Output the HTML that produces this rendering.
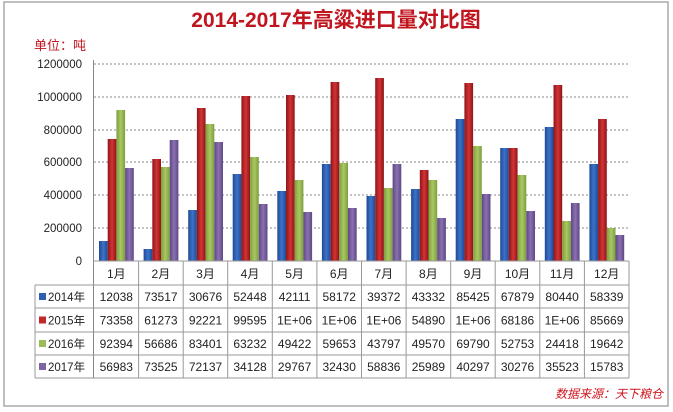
<!DOCTYPE html>
<html><head><meta charset="utf-8"><style>
body{margin:0;background:#fff;}
svg{display:block;font-family:"Liberation Sans","Noto Sans CJK SC",sans-serif;}
</style></head><body>
<svg width="673" height="412" viewBox="0 0 673 412" xmlns="http://www.w3.org/2000/svg">
<defs>
<linearGradient id="gb" x1="0" x2="1"><stop offset="0" stop-color="#1d4a96"/><stop offset=".5" stop-color="#3d72c8"/><stop offset="1" stop-color="#1d4a96"/></linearGradient>
<linearGradient id="gr" x1="0" x2="1"><stop offset="0" stop-color="#8e1418"/><stop offset=".5" stop-color="#d23434"/><stop offset="1" stop-color="#8e1418"/></linearGradient>
<linearGradient id="gg" x1="0" x2="1"><stop offset="0" stop-color="#7e9e3c"/><stop offset=".5" stop-color="#a8c864"/><stop offset="1" stop-color="#7e9e3c"/></linearGradient>
<linearGradient id="gp" x1="0" x2="1"><stop offset="0" stop-color="#5e4884"/><stop offset=".5" stop-color="#8a70b0"/><stop offset="1" stop-color="#5e4884"/></linearGradient>
</defs>
<rect x="4" y="2" width="664" height="404" fill="#fff" stroke="#aaa" stroke-width="1.5"/>
<text x="336" y="27" text-anchor="middle" font-size="21" font-weight="bold" fill="#c0141e">2014-2017年高粱进口量对比图</text>
<text x="34" y="50" font-size="13" fill="#c0141e">单位：吨</text>
<g stroke="#888" stroke-dasharray="2,2" stroke-width="1">
<line x1="94" x2="629" y1="64" y2="64"/><line x1="94" x2="629" y1="97" y2="97"/><line x1="94" x2="629" y1="130" y2="130"/><line x1="94" x2="629" y1="162" y2="162"/><line x1="94" x2="629" y1="195" y2="195"/><line x1="94" x2="629" y1="228" y2="228"/>
</g>
<g font-size="11.5" fill="#222" text-anchor="end">
<text x="82" y="68">1200000</text><text x="82" y="101">1000000</text><text x="82" y="134">800000</text><text x="82" y="166">600000</text><text x="82" y="199">400000</text><text x="82" y="232">200000</text><text x="82" y="265">0</text>
</g>
<g>
<g transform="translate(99,0)"><rect x="0" y="241" width="8.7" height="20" fill="url(#gb)"/><rect x="8.7" y="139" width="8.7" height="122" fill="url(#gr)"/><rect x="17.4" y="110" width="8.7" height="151" fill="url(#gg)"/><rect x="26.1" y="168" width="8.7" height="93" fill="url(#gp)"/></g>
<g transform="translate(143.6,0)"><rect x="0" y="249" width="8.7" height="12" fill="url(#gb)"/><rect x="8.7" y="159" width="8.7" height="102" fill="url(#gr)"/><rect x="17.4" y="167" width="8.7" height="94" fill="url(#gg)"/><rect x="26.1" y="140" width="8.7" height="121" fill="url(#gp)"/></g>
<g transform="translate(188.2,0)"><rect x="0" y="210" width="8.7" height="51" fill="url(#gb)"/><rect x="8.7" y="108" width="8.7" height="153" fill="url(#gr)"/><rect x="17.4" y="124" width="8.7" height="137" fill="url(#gg)"/><rect x="26.1" y="142" width="8.7" height="119" fill="url(#gp)"/></g>
<g transform="translate(232.7,0)"><rect x="0" y="174" width="8.7" height="87" fill="url(#gb)"/><rect x="8.7" y="96" width="8.7" height="165" fill="url(#gr)"/><rect x="17.4" y="157" width="8.7" height="104" fill="url(#gg)"/><rect x="26.1" y="204" width="8.7" height="57" fill="url(#gp)"/></g>
<g transform="translate(277.3,0)"><rect x="0" y="191" width="8.7" height="70" fill="url(#gb)"/><rect x="8.7" y="95" width="8.7" height="166" fill="url(#gr)"/><rect x="17.4" y="180" width="8.7" height="81" fill="url(#gg)"/><rect x="26.1" y="212" width="8.7" height="49" fill="url(#gp)"/></g>
<g transform="translate(321.9,0)"><rect x="0" y="164" width="8.7" height="97" fill="url(#gb)"/><rect x="8.7" y="82" width="8.7" height="179" fill="url(#gr)"/><rect x="17.4" y="163" width="8.7" height="98" fill="url(#gg)"/><rect x="26.1" y="208" width="8.7" height="53" fill="url(#gp)"/></g>
<g transform="translate(366.5,0)"><rect x="0" y="196" width="8.7" height="65" fill="url(#gb)"/><rect x="8.7" y="78" width="8.7" height="183" fill="url(#gr)"/><rect x="17.4" y="188" width="8.7" height="73" fill="url(#gg)"/><rect x="26.1" y="164" width="8.7" height="97" fill="url(#gp)"/></g>
<g transform="translate(411.1,0)"><rect x="0" y="189" width="8.7" height="72" fill="url(#gb)"/><rect x="8.7" y="170" width="8.7" height="91" fill="url(#gr)"/><rect x="17.4" y="180" width="8.7" height="81" fill="url(#gg)"/><rect x="26.1" y="218" width="8.7" height="43" fill="url(#gp)"/></g>
<g transform="translate(455.7,0)"><rect x="0" y="119" width="8.7" height="142" fill="url(#gb)"/><rect x="8.7" y="83" width="8.7" height="178" fill="url(#gr)"/><rect x="17.4" y="146" width="8.7" height="115" fill="url(#gg)"/><rect x="26.1" y="194" width="8.7" height="67" fill="url(#gp)"/></g>
<g transform="translate(500.2,0)"><rect x="0" y="148" width="8.7" height="113" fill="url(#gb)"/><rect x="8.7" y="148" width="8.7" height="113" fill="url(#gr)"/><rect x="17.4" y="175" width="8.7" height="86" fill="url(#gg)"/><rect x="26.1" y="211" width="8.7" height="50" fill="url(#gp)"/></g>
<g transform="translate(544.8,0)"><rect x="0" y="127" width="8.7" height="134" fill="url(#gb)"/><rect x="8.7" y="85" width="8.7" height="176" fill="url(#gr)"/><rect x="17.4" y="221" width="8.7" height="40" fill="url(#gg)"/><rect x="26.1" y="203" width="8.7" height="58" fill="url(#gp)"/></g>
<g transform="translate(589.4,0)"><rect x="0" y="164" width="8.7" height="97" fill="url(#gb)"/><rect x="8.7" y="119" width="8.7" height="142" fill="url(#gr)"/><rect x="17.4" y="228" width="8.7" height="33" fill="url(#gg)"/><rect x="26.1" y="235" width="8.7" height="26" fill="url(#gp)"/></g>
</g>
<line x1="93.5" y1="60" x2="93.5" y2="378" stroke="#888"/>
<g stroke="#999" fill="none">
<line x1="94" y1="261" x2="629" y2="261"/>
<line x1="35" y1="285" x2="629" y2="285"/><line x1="35" y1="308" x2="629" y2="308"/><line x1="35" y1="332" x2="629" y2="332"/><line x1="35" y1="355" x2="629" y2="355"/><line x1="35" y1="378" x2="629" y2="378"/>
<line x1="35" y1="285" x2="35" y2="378"/>
<line x1="138.6" y1="261" x2="138.6" y2="378"/><line x1="183.2" y1="261" x2="183.2" y2="378"/><line x1="227.7" y1="261" x2="227.7" y2="378"/><line x1="272.3" y1="261" x2="272.3" y2="378"/><line x1="316.9" y1="261" x2="316.9" y2="378"/><line x1="361.5" y1="261" x2="361.5" y2="378"/><line x1="406.1" y1="261" x2="406.1" y2="378"/><line x1="450.7" y1="261" x2="450.7" y2="378"/><line x1="495.2" y1="261" x2="495.2" y2="378"/><line x1="539.8" y1="261" x2="539.8" y2="378"/><line x1="584.4" y1="261" x2="584.4" y2="378"/><line x1="629" y1="261" x2="629" y2="378"/>
</g>
<g font-size="12" fill="#222" text-anchor="middle">
<text x="116.3" y="278">1月</text><text x="160.9" y="278">2月</text><text x="205.5" y="278">3月</text><text x="250" y="278">4月</text><text x="294.6" y="278">5月</text><text x="339.2" y="278">6月</text><text x="383.8" y="278">7月</text><text x="428.4" y="278">8月</text><text x="473" y="278">9月</text><text x="517.5" y="278">10月</text><text x="562.1" y="278">11月</text><text x="606.7" y="278">12月</text>
</g>
<g font-size="11.5" fill="#222">
<rect x="39" y="293" width="7" height="7" fill="#2e5fb0"/><text x="48" y="301">2014年</text>
<rect x="39" y="316.5" width="7" height="7" fill="#c0282a"/><text x="48" y="324.5">2015年</text>
<rect x="39" y="340" width="7" height="7" fill="#9bbb59"/><text x="48" y="348">2016年</text>
<rect x="39" y="363" width="7" height="7" fill="#8064a2"/><text x="48" y="371">2017年</text>
</g>
<g font-size="12" fill="#222" text-anchor="middle">
<text y="301"><tspan x="116.3">12038</tspan><tspan x="160.9">73517</tspan><tspan x="205.5">30676</tspan><tspan x="250">52448</tspan><tspan x="294.6">42111</tspan><tspan x="339.2">58172</tspan><tspan x="383.8">39372</tspan><tspan x="428.4">43332</tspan><tspan x="473">85425</tspan><tspan x="517.5">67879</tspan><tspan x="562.1">80440</tspan><tspan x="606.7">58339</tspan></text>
<text y="324.5"><tspan x="116.3">73358</tspan><tspan x="160.9">61273</tspan><tspan x="205.5">92221</tspan><tspan x="250">99595</tspan><tspan x="294.6">1E+06</tspan><tspan x="339.2">1E+06</tspan><tspan x="383.8">1E+06</tspan><tspan x="428.4">54890</tspan><tspan x="473">1E+06</tspan><tspan x="517.5">68186</tspan><tspan x="562.1">1E+06</tspan><tspan x="606.7">85669</tspan></text>
<text y="348"><tspan x="116.3">92394</tspan><tspan x="160.9">56686</tspan><tspan x="205.5">83401</tspan><tspan x="250">63232</tspan><tspan x="294.6">49422</tspan><tspan x="339.2">59653</tspan><tspan x="383.8">43797</tspan><tspan x="428.4">49570</tspan><tspan x="473">69790</tspan><tspan x="517.5">52753</tspan><tspan x="562.1">24418</tspan><tspan x="606.7">19642</tspan></text>
<text y="371"><tspan x="116.3">56983</tspan><tspan x="160.9">73525</tspan><tspan x="205.5">72137</tspan><tspan x="250">34128</tspan><tspan x="294.6">29767</tspan><tspan x="339.2">32430</tspan><tspan x="383.8">58836</tspan><tspan x="428.4">25989</tspan><tspan x="473">40297</tspan><tspan x="517.5">30276</tspan><tspan x="562.1">35523</tspan><tspan x="606.7">15783</tspan></text>
</g>
<text x="663" y="398" text-anchor="end" font-size="12" font-style="italic" fill="#d0141e">数据来源：天下粮仓</text>
</svg>
</body></html>
